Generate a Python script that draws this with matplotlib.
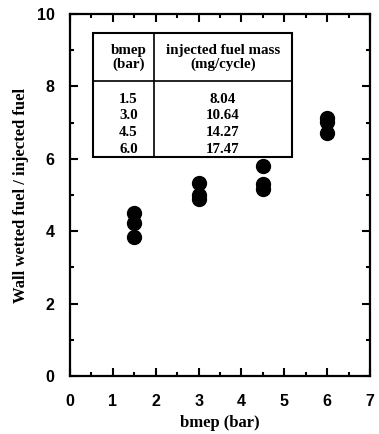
import matplotlib.pyplot as plt
from matplotlib.ticker import MultipleLocator
from matplotlib.patches import Rectangle

# measured points
bmep = [1.5, 1.5, 1.5, 3.0, 3.0, 3.0, 4.5, 4.5, 4.5, 6.0, 6.0, 6.0]
wall_ratio = [4.50, 4.23, 3.84, 5.33, 5.00, 4.88, 5.80, 5.30, 5.18, 7.12, 7.02, 6.72]

# inset table
tab_bmep = ['1.5', '3.0', '4.5', '6.0']
tab_mass = ['8.04', '10.64', '14.27', '17.47']

serif = 'Liberation Serif'
sans = 'Liberation Sans'

fig = plt.figure(figsize=(3.79, 4.34), dpi=100)
ax = fig.add_axes([0.1847, 0.1336, 0.7916, 0.8341])

ax.plot(bmep, wall_ratio, 'o', color='black', markersize=10, linestyle='none')

ax.set_xlim(0, 7)
ax.set_ylim(0, 10)
ax.xaxis.set_major_locator(MultipleLocator(1))
ax.xaxis.set_minor_locator(MultipleLocator(0.5))
ax.yaxis.set_major_locator(MultipleLocator(2))
ax.yaxis.set_minor_locator(MultipleLocator(1))
ax.tick_params(which='both', direction='in', top=True, right=True, width=1.5)
ax.tick_params(which='major', length=6)
ax.tick_params(which='minor', length=3)
ax.tick_params(axis='x', pad=13)
ax.tick_params(axis='y', pad=11)
for lab in ax.get_xticklabels() + ax.get_yticklabels():
    lab.set_fontfamily(sans)
    lab.set_fontweight('bold')
    lab.set_fontsize(11.5)
for sp in ax.spines.values():
    sp.set_linewidth(1.6)

ax.set_xlabel('bmep (bar)', fontfamily=serif, fontweight='bold', fontsize=12, labelpad=4)
ax.set_ylabel('Wall wetted fuel / injected fuel', fontfamily=serif, fontweight='bold',
              fontsize=12, labelpad=6)

# table box
x0, x1, xd = 0.077, 0.74, 0.28
y0, y1, yh = 0.605, 0.9475, 0.815
ax.add_patch(Rectangle((x0, y0), x1 - x0, y1 - y0, transform=ax.transAxes,
                       fill=False, lw=1.5, color='black', zorder=5))
ax.plot([xd, xd], [y0, y1], transform=ax.transAxes, color='black', lw=1.2)
ax.plot([x0, x1], [yh, yh], transform=ax.transAxes, color='black', lw=1.2)

tkw = dict(transform=ax.transAxes, fontfamily=serif, fontweight='bold', fontsize=10.8,
           ha='center', va='center')
c1, c2 = 0.195, 0.51
ax.text(c1, 0.88, 'bmep\n(bar)', linespacing=1.05, **tkw)
ax.text(c2, 0.88, 'injected fuel mass\n(mg/cycle)', linespacing=1.05, **tkw)
row_y = [0.765, 0.719, 0.674, 0.627]
for yy, b, m in zip(row_y, tab_bmep, tab_mass):
    ax.text(c1, yy, b, **tkw)
    ax.text(c2, yy, m, **tkw)

fig.savefig('out.png', dpi=100)
